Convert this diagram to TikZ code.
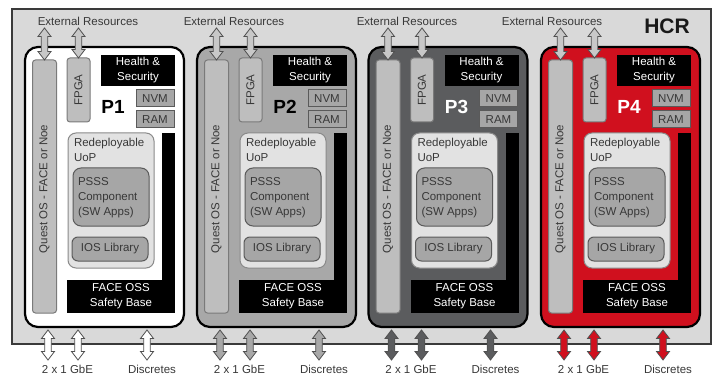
\documentclass[tikz,border=0pt]{standalone}
\usepackage{fontspec}
\setmainfont{Liberation Sans}
\usetikzlibrary{calc}
\definecolor{bg}{HTML}{D9D9D9}
\definecolor{txt}{HTML}{383838}
\definecolor{qfill}{HTML}{BEBEBE}
\definecolor{qline}{HTML}{7A7A7A}
\definecolor{boxfill}{HTML}{A6A6A6}
\definecolor{boxline}{HTML}{5A5A5A}
\definecolor{uopfill}{HTML}{E2E2E2}
\definecolor{uopline}{HTML}{8A8A8A}
\definecolor{ptwo}{HTML}{A8A8A8}
\definecolor{pthree}{HTML}{5B5C5E}
\definecolor{pfour}{HTML}{D0101E}
\definecolor{arrline}{HTML}{505050}
\definecolor{arrtop}{HTML}{C8C8C8}
\definecolor{outerline}{HTML}{3A3A3A}
\tikzset{
 base/.style={inner sep=0pt, outer sep=0pt, font=\fontsize{11.5}{15}\selectfont},
 panelbox/.style={base, draw=black, line width=2.2pt, rounded corners=13pt, anchor=north west, minimum width=159pt, minimum height=280pt},
 barbox/.style={base, draw=qline, fill=qfill, line width=1pt, rounded corners=3pt, anchor=north west},
 blackbox/.style={base, fill=black, text=white, anchor=north west, align=center},
 memory/.style={base, draw=boxline, fill=boxfill, line width=1pt, text=txt, anchor=north west},
 uop/.style={base, draw=uopline, fill=uopfill, line width=1pt, rounded corners=8pt, anchor=north west},
 psss/.style={base, draw=boxline, fill=boxfill, text=txt, line width=1pt, rounded corners=8pt, anchor=north west},
 plain/.style={base, text=txt},
 plabel/.style={base, font=\fontsize{19}{19}\selectfont\bfseries},
 barrow/.style={draw=arrline, line width=0.8pt, line join=miter},
}
\newcommand\blockarrow[3]{%
\draw[barrow, fill=#3] let \p1=(#1), \p2=(#2) in
 (\x1,\y1) -- (\x1+6.5pt,\y1-8.5pt) -- (\x1+3.3pt,\y1-8.5pt) -- (\x1+3.3pt,\y2+8.5pt)
 -- (\x1+6.5pt,\y2+8.5pt) -- (\x1,\y2) -- (\x1-6.5pt,\y2+8.5pt) -- (\x1-3.3pt,\y2+8.5pt)
 -- (\x1-3.3pt,\y1-8.5pt) -- (\x1-6.5pt,\y1-8.5pt) -- cycle;}
% #1 suffix, #2 left x, #3 panel fill, #4 label colour, #5 label, #6 bottom arrow fill
\newcommand\hcrpanel[6]{%
\begin{scope}[shift={(#2,0)}]
\node[panelbox, fill=#3] (pan#1) at (0,47) {};
\node[barbox, minimum width=24pt, minimum height=253pt] (qos#1) at (7.5,60) {};
\node[plain, rotate=90] (qtx#1) at (19.5,189) {Quest OS - FACE or Noe};
\node[barbox, minimum width=23pt, minimum height=64pt] (fpga#1) at (42,58) {};
\node[plain, rotate=90] (ftx#1) at (fpga#1.center) {FPGA};
\node[blackbox, minimum width=74pt, minimum height=31pt] (hs#1) at (76,55) {Health \&\\Security};
\node[memory, minimum width=38pt, minimum height=17pt] (nvm#1) at (111,90) {NVM};
\node[memory, minimum width=38pt, minimum height=17pt] (ram#1) at (111,111) {RAM};
\node[plabel, text=#4] (pl#1) at (88,107) {#5};
\node[uop, minimum width=86pt, minimum height=135pt] (uop#1) at (43,133) {};
\node[plain, anchor=north west, align=left] (uoptx#1) at (49,138.5) {Redeployable\\UoP};
\node[psss, minimum width=76pt, minimum height=58pt] (ps#1) at (48,168) {};
\node[plain, anchor=north west, align=left] (pstx#1) at (53,177.5) {PSSS\\Component\\(SW Apps)};
\node[psss, rounded corners=6pt, minimum width=76pt, minimum height=24pt] (ios#1) at (47,237) {IOS Library};
\node[base, fill=black, anchor=north west, minimum width=13pt, minimum height=148pt] (bar#1) at (137,133) {};
\node[blackbox, minimum width=108pt, minimum height=33pt] (face#1) at (42,280) {FACE OSS\\Safety Base};
\coordinate (ta#1) at (19.5,28);
\coordinate (tb#1) at (53.5,28);
\blockarrow{ta#1}{qos#1.north}{arrtop}
\blockarrow{tb#1}{fpga#1.north}{arrtop}
\coordinate (ga#1) at (23,330);  \coordinate (gae#1) at (23,360);
\coordinate (gb#1) at (53,330);  \coordinate (gbe#1) at (53,360);
\coordinate (dc#1) at (122,330); \coordinate (dce#1) at (122,360);
\blockarrow{ga#1}{gae#1}{#6}
\blockarrow{gb#1}{gbe#1}{#6}
\blockarrow{dc#1}{dce#1}{#6}
\node[plain] (gbl#1) at (42.5,369) {2 x 1 GbE};
\node[plain] (dcl#1) at (127,369) {Discretes};
\end{scope}}
\begin{document}
\begin{tikzpicture}[x=1pt,y=-1pt]
\useasboundingbox (0,0) rectangle (715,377);
\fill[white] (0,0) rectangle (715,377);
\node[base, draw=outerline, fill=bg, line width=1.8pt, anchor=north west, minimum width=699pt, minimum height=335pt] (hcr) at (12,9) {};
\node[base, font=\fontsize{21}{21}\selectfont\bfseries, text=black!90] (hcrlabel) at (667,26) {HCR};
\node[plain] (ext1) at (88,21) {External Resources};
\node[plain] (ext2) at (234,21) {External Resources};
\node[plain] (ext3) at (407,21) {External Resources};
\node[plain] (ext4) at (552,21) {External Resources};
\hcrpanel{1}{25}{white}{black}{P1}{white}
\hcrpanel{2}{197}{ptwo}{black}{P2}{ptwo}
\hcrpanel{3}{368.5}{pthree}{white}{P3}{pthree}
\hcrpanel{4}{541}{pfour}{white}{P4}{pfour}
\end{tikzpicture}
\end{document}
